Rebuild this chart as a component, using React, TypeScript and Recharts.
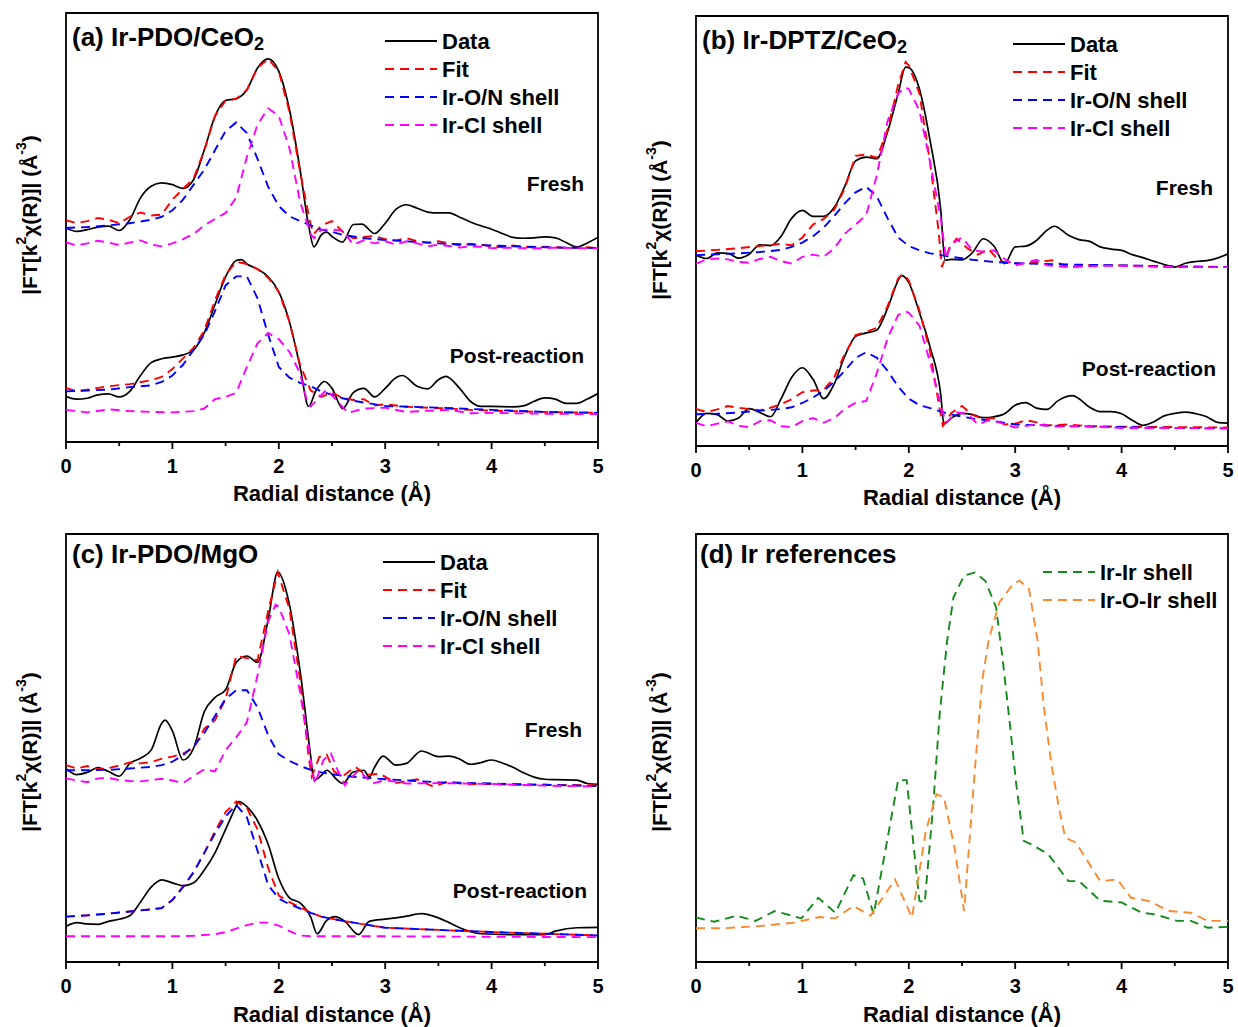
import React from 'react';
import { LineChart, Line, XAxis, YAxis, ReferenceArea } from 'recharts';

const FONT = '"Liberation Sans", Arial, Helvetica, sans-serif';
const TICKS = [0, 0.5, 1, 1.5, 2, 2.5, 3, 3.5, 4, 4.5, 5];

// ---- (a) Ir-PDO/CeO2 ----
const aFreshData = [[0,49.9],[0.1,49.1],[0.2,49.5],[0.3,50.1],[0.4,50.3],[0.5,49.3],[0.6,51.8],[0.7,56.9],[0.8,59.6],[0.9,60.4],[1.0,60.0],[1.1,59.1],[1.2,61.2],[1.3,68.1],[1.4,75.9],[1.5,79.6],[1.6,80.0],[1.7,82.1],[1.8,87.2],[1.9,89.3],[2.0,86.4],[2.1,77.5],[2.2,63.5],[2.28,50.5],[2.33,45.5],[2.4,48.3],[2.45,48.9],[2.5,47.9],[2.6,46.6],[2.7,50.7],[2.78,50.8],[2.9,48.6],[3.0,51.0],[3.1,54.2],[3.2,55.3],[3.3,54.5],[3.4,53.6],[3.5,53.4],[3.6,53.4],[3.7,52.4],[3.8,51.3],[3.9,50.4],[4.0,49.6],[4.1,48.6],[4.2,47.7],[4.3,47.5],[4.4,47.6],[4.5,47.8],[4.6,47.6],[4.7,46.5],[4.8,45.5],[4.9,46.4],[5.0,47.7]];
const aFreshFit = [[0,51.7],[0.1,51.0],[0.2,51.5],[0.3,52.2],[0.4,51.8],[0.5,51.0],[0.6,52.5],[0.7,53.5],[0.8,52.8],[0.9,53.0],[1.0,56.5],[1.1,59.0],[1.2,61.5],[1.3,68.0],[1.4,76.0],[1.5,79.6],[1.6,80.0],[1.7,82.1],[1.8,87.2],[1.9,89.3],[2.0,86.4],[2.1,77.0],[2.2,63.0],[2.3,50.5],[2.33,48.5],[2.4,50.5],[2.5,51.5],[2.6,49.0],[2.7,47.5],[2.8,47.8],[2.9,48.0],[3.0,47.3],[3.1,47.0],[3.2,47.5],[3.3,46.8],[3.4,46.5],[3.5,46.8],[3.6,46.3],[3.7,45.8],[3.8,46.2],[3.9,46.0],[4.0,45.6],[4.1,45.4],[4.2,45.8],[4.3,45.5],[4.4,45.3],[4.5,45.5],[4.6,45.4],[4.7,45.2],[4.8,45.3],[4.9,45.4],[5.0,45.2]];
const aFreshON = [[0,49.9],[0.2,50.1],[0.4,50.5],[0.6,51.0],[0.8,51.8],[0.9,52.5],[1.0,54.0],[1.1,56.5],[1.2,60.0],[1.3,63.5],[1.4,68.0],[1.5,72.5],[1.6,74.5],[1.7,72.0],[1.8,66.0],[1.9,59.5],[2.0,55.0],[2.1,52.6],[2.2,51.5],[2.3,50.5],[2.4,49.5],[2.5,49.0],[2.6,48.3],[2.7,47.9],[2.8,47.5],[3.0,47.1],[3.5,46.3],[4.0,45.8],[4.5,45.4],[5.0,45.2]];
const aFreshCl = [[0,46.5],[0.1,45.8],[0.2,46.3],[0.3,46.9],[0.4,46.5],[0.5,45.9],[0.6,46.5],[0.7,47.0],[0.8,46.0],[0.9,45.6],[1.0,46.3],[1.1,47.3],[1.2,48.5],[1.3,50.5],[1.4,52.0],[1.5,53.4],[1.6,57.0],[1.7,66.5],[1.8,74.0],[1.9,77.8],[2.0,76.0],[2.1,68.5],[2.2,56.0],[2.3,48.5],[2.33,47.5],[2.4,49.5],[2.5,49.5],[2.6,49.3],[2.7,46.0],[2.8,47.0],[2.9,46.3],[3.0,46.8],[3.1,46.0],[3.2,46.8],[3.3,46.3],[3.4,45.6],[3.5,46.0],[3.6,45.7],[3.7,45.3],[3.8,45.6],[3.9,45.5],[4.0,45.2],[4.2,45.3],[4.4,45.1],[4.6,45.3],[4.8,45.2],[5.0,45.1]];
const aPostData = [[0,10.6],[0.1,10.0],[0.2,10.2],[0.3,11.0],[0.4,11.2],[0.5,10.5],[0.6,11.8],[0.7,15.5],[0.8,18.5],[0.9,19.4],[1.0,19.8],[1.1,20.3],[1.2,21.5],[1.3,25.5],[1.4,32.0],[1.5,38.5],[1.6,42.3],[1.65,42.5],[1.7,41.5],[1.8,40.3],[1.9,38.5],[2.0,35.0],[2.1,28.0],[2.2,17.5],[2.28,8.3],[2.35,12.0],[2.43,14.1],[2.5,12.5],[2.6,7.8],[2.7,11.5],[2.8,12.5],[2.9,10.5],[3.0,12.5],[3.1,15.0],[3.16,15.5],[3.3,13.0],[3.4,12.4],[3.5,14.5],[3.57,15.3],[3.7,12.5],[3.8,9.5],[3.9,8.3],[4.0,8.3],[4.2,8.2],[4.3,8.4],[4.4,9.5],[4.5,10.3],[4.6,10.0],[4.7,9.0],[4.8,9.0],[4.9,10.0],[5.0,11.3]];
const aPostFit = [[0,12.6],[0.1,11.8],[0.2,12.2],[0.4,13.0],[0.6,13.5],[0.8,14.4],[0.9,15.2],[1.0,17.0],[1.1,19.5],[1.2,22.0],[1.3,26.0],[1.4,33.0],[1.5,39.0],[1.6,42.0],[1.7,41.5],[1.8,40.3],[1.9,38.3],[2.0,35.0],[2.1,28.0],[2.2,18.0],[2.3,12.0],[2.4,10.5],[2.5,11.5],[2.6,10.3],[2.7,9.8],[2.8,10.0],[2.9,8.5],[3.0,8.8],[3.2,8.2],[3.4,8.0],[3.6,7.8],[3.8,7.5],[4.0,7.3],[4.5,7.0],[5.0,6.8]];
const aPostON = [[0,11.8],[0.2,12.0],[0.4,12.2],[0.6,12.8],[0.8,13.2],[0.9,14.0],[1.0,15.5],[1.1,18.0],[1.2,21.5],[1.3,25.0],[1.4,30.5],[1.5,36.5],[1.6,38.6],[1.7,38.6],[1.8,33.5],[1.9,25.0],[2.0,17.5],[2.1,15.0],[2.2,13.8],[2.3,13.0],[2.4,11.8],[2.5,11.0],[2.6,10.2],[2.7,9.6],[2.8,9.2],[3.0,8.4],[3.5,8.0],[4.0,7.5],[4.5,7.0],[5.0,6.8]];
const aPostCl = [[0,7.5],[0.2,6.9],[0.4,7.6],[0.6,7.2],[0.8,7.0],[1.0,6.9],[1.2,7.2],[1.3,7.8],[1.4,10.0],[1.5,10.5],[1.6,11.5],[1.7,17.5],[1.8,23.0],[1.9,25.4],[2.0,24.0],[2.1,21.0],[2.2,16.0],[2.27,9.0],[2.3,8.3],[2.4,11.0],[2.45,12.2],[2.55,9.5],[2.65,6.8],[2.8,7.8],[3.0,8.0],[3.2,7.0],[3.4,7.3],[3.6,7.5],[3.8,6.7],[4.0,6.8],[4.5,6.6],[5.0,6.5]];

// ---- (b) Ir-DPTZ/CeO2 ----
const bFreshData = [[0,44.4],[0.1,43.6],[0.2,44.9],[0.3,44.8],[0.4,43.7],[0.5,44.6],[0.6,46.8],[0.7,46.6],[0.8,48.8],[0.9,53.0],[1.0,54.8],[1.1,53.4],[1.2,53.4],[1.3,55.5],[1.4,60.5],[1.5,66.3],[1.6,67.2],[1.7,66.8],[1.8,73.0],[1.9,82.0],[1.97,88.1],[2.0,88.0],[2.1,83.0],[2.2,71.0],[2.3,55.0],[2.34,43.2],[2.4,43.4],[2.5,43.3],[2.6,45.0],[2.7,48.2],[2.8,46.5],[2.9,42.4],[3.0,46.3],[3.1,46.5],[3.2,47.8],[3.3,50.2],[3.37,51.1],[3.5,49.0],[3.6,48.0],[3.7,47.6],[3.8,46.3],[3.9,45.8],[4.0,45.5],[4.1,44.5],[4.2,43.8],[4.3,43.0],[4.4,42.2],[4.5,41.6],[4.6,42.5],[4.7,42.9],[4.8,43.1],[4.9,43.7],[5.0,44.7]];
const bFreshFit = [[0,45.3],[0.2,45.6],[0.4,46.0],[0.6,46.5],[0.8,47.0],[0.9,46.7],[1.0,48.5],[1.1,51.5],[1.2,52.8],[1.3,55.0],[1.4,60.0],[1.5,67.5],[1.6,67.8],[1.7,67.0],[1.8,73.5],[1.9,84.0],[1.97,89.3],[2.0,88.5],[2.1,82.0],[2.2,66.0],[2.28,50.0],[2.31,41.6],[2.38,46.0],[2.45,48.2],[2.55,46.0],[2.65,44.5],[2.75,45.8],[2.85,43.0],[2.95,42.5],[3.1,42.4],[3.2,42.8],[3.35,43.2],[3.5,41.6],[3.7,42.0],[4.0,42.0],[4.3,41.8],[4.6,41.6],[5.0,41.6]];
const bFreshON = [[0,44.4],[0.2,44.6],[0.4,44.8],[0.6,45.1],[0.8,45.6],[0.9,46.3],[1.0,47.3],[1.1,48.8],[1.2,50.8],[1.3,53.5],[1.4,56.5],[1.5,59.0],[1.6,60.3],[1.7,58.0],[1.8,53.0],[1.9,48.5],[2.0,46.5],[2.1,45.5],[2.2,44.8],[2.3,44.4],[2.4,44.0],[2.6,43.3],[2.8,42.8],[3.0,42.5],[3.5,42.2],[4.0,42.0],[4.5,41.8],[5.0,41.6]];
const bFreshCl = [[0,42.4],[0.1,43.4],[0.2,43.6],[0.3,43.4],[0.4,42.8],[0.5,42.6],[0.6,43.5],[0.7,44.0],[0.8,43.0],[0.9,42.4],[1.0,44.0],[1.1,44.5],[1.2,44.0],[1.3,46.0],[1.4,49.4],[1.5,51.5],[1.6,53.7],[1.7,63.0],[1.8,75.5],[1.9,82.0],[1.97,83.4],[2.0,83.0],[2.1,78.0],[2.2,66.0],[2.3,53.0],[2.35,43.6],[2.4,47.0],[2.5,48.5],[2.6,45.5],[2.7,45.2],[2.8,45.5],[2.9,43.5],[3.0,42.0],[3.1,42.6],[3.2,43.3],[3.3,42.0],[3.5,41.6],[3.8,41.9],[4.0,41.9],[4.5,41.6],[5.0,41.6]];
const bPostData = [[0,5.4],[0.1,7.6],[0.2,7.3],[0.3,5.8],[0.4,6.5],[0.5,8.7],[0.6,7.8],[0.7,6.8],[0.8,11.0],[0.9,16.0],[1.0,18.2],[1.1,15.5],[1.2,11.0],[1.3,14.5],[1.4,21.0],[1.5,25.5],[1.6,26.3],[1.7,27.0],[1.8,32.0],[1.9,38.5],[1.93,39.7],[2.0,38.0],[2.1,31.0],[2.2,23.0],[2.3,12.0],[2.33,5.1],[2.4,6.5],[2.5,7.6],[2.6,7.3],[2.7,6.6],[2.8,6.8],[2.9,7.5],[3.0,9.5],[3.1,10.1],[3.2,8.8],[3.3,8.5],[3.4,10.5],[3.54,11.7],[3.6,11.0],[3.7,9.0],[3.8,8.0],[3.9,8.0],[4.0,7.5],[4.1,6.0],[4.2,4.8],[4.3,5.6],[4.4,7.0],[4.5,7.6],[4.6,7.9],[4.7,7.5],[4.8,6.8],[4.9,5.5],[5.0,5.3]];
const bPostFit = [[0,8.6],[0.1,7.9],[0.2,8.5],[0.3,9.3],[0.4,8.9],[0.5,8.6],[0.6,8.3],[0.7,8.9],[0.8,9.7],[0.9,10.9],[1.0,12.5],[1.1,12.9],[1.2,13.0],[1.3,16.0],[1.4,21.5],[1.5,25.8],[1.6,26.5],[1.7,27.5],[1.8,32.5],[1.9,39.0],[1.95,40.0],[2.0,38.5],[2.1,31.5],[2.2,22.0],[2.28,10.0],[2.32,4.7],[2.4,7.7],[2.5,9.3],[2.6,7.2],[2.7,6.3],[2.8,6.5],[2.9,5.0],[3.0,5.2],[3.1,6.0],[3.2,5.5],[3.3,4.8],[3.5,5.0],[3.7,4.6],[4.0,4.5],[4.5,4.4],[5.0,4.3]];
const bPostON = [[0,7.4],[0.2,7.5],[0.4,7.8],[0.6,8.2],[0.8,8.6],[0.9,9.0],[1.0,10.0],[1.1,11.3],[1.2,12.8],[1.3,15.0],[1.4,17.5],[1.5,20.5],[1.6,21.8],[1.7,20.5],[1.8,17.5],[1.9,13.8],[2.0,11.0],[2.1,9.5],[2.2,8.8],[2.3,8.0],[2.4,7.3],[2.6,6.4],[2.8,5.8],[3.0,5.0],[3.5,4.6],[4.0,4.4],[4.5,4.2],[5.0,4.1]];
const bPostCl = [[0,5.4],[0.1,4.6],[0.2,5.2],[0.3,5.7],[0.4,4.7],[0.5,4.4],[0.6,5.8],[0.7,6.0],[0.8,4.6],[0.9,4.4],[1.0,5.8],[1.1,6.5],[1.2,5.4],[1.3,6.5],[1.4,8.7],[1.5,10.0],[1.6,10.5],[1.7,17.0],[1.8,25.0],[1.9,30.5],[1.97,31.3],[2.0,31.0],[2.1,28.0],[2.2,19.5],[2.3,9.5],[2.35,5.4],[2.45,7.8],[2.55,7.5],[2.65,5.0],[2.75,6.0],[2.85,5.5],[3.0,4.3],[3.2,5.0],[3.4,4.5],[3.6,4.7],[4.0,4.2],[4.5,4.2],[5.0,4.1]];

// ---- (c) Ir-PDO/MgO ----
const cFreshData = [[0,45.2],[0.1,43.8],[0.2,44.3],[0.3,45.4],[0.4,44.5],[0.5,43.4],[0.6,46.4],[0.7,47.6],[0.8,49.5],[0.9,55.8],[0.93,56.5],[1.0,54.0],[1.1,47.2],[1.2,50.0],[1.3,58.5],[1.4,61.8],[1.5,63.6],[1.6,70.0],[1.7,71.5],[1.8,70.0],[1.9,80.0],[1.99,91.1],[2.1,83.5],[2.2,68.0],[2.3,48.0],[2.33,42.5],[2.4,43.6],[2.45,44.8],[2.55,42.5],[2.6,41.7],[2.7,44.4],[2.8,44.8],[2.85,43.2],[2.9,45.5],[2.98,48.1],[3.1,46.0],[3.2,46.4],[3.34,49.3],[3.5,48.0],[3.6,48.1],[3.7,47.4],[3.8,46.2],[3.9,46.6],[4.0,47.2],[4.1,46.5],[4.2,45.5],[4.3,44.2],[4.4,43.2],[4.5,42.7],[4.6,42.6],[4.8,42.5],[4.9,41.7],[5.0,41.5]];
const cFreshFit = [[0,46.0],[0.1,45.2],[0.2,45.8],[0.3,45.0],[0.4,45.3],[0.5,45.9],[0.6,46.6],[0.7,46.4],[0.8,46.7],[0.9,47.5],[1.0,48.0],[1.1,48.7],[1.2,50.0],[1.3,54.5],[1.4,56.5],[1.5,61.5],[1.6,71.5],[1.7,71.0],[1.8,70.5],[1.9,82.0],[1.99,91.1],[2.1,82.5],[2.2,66.0],[2.28,48.0],[2.31,43.3],[2.38,47.9],[2.45,48.5],[2.52,44.5],[2.6,43.4],[2.72,45.6],[2.82,43.7],[2.95,44.0],[3.1,41.8],[3.3,42.7],[3.45,41.0],[3.6,42.2],[3.75,41.5],[3.95,41.6],[4.2,41.4],[4.5,41.4],[5.0,41.3]];
const cFreshON = [[0,44.8],[0.2,44.8],[0.4,44.9],[0.6,45.2],[0.8,45.6],[0.9,46.0],[1.0,46.8],[1.1,48.3],[1.2,50.5],[1.3,53.5],[1.4,57.5],[1.5,61.5],[1.6,63.5],[1.7,63.5],[1.8,59.5],[1.9,53.0],[2.0,48.5],[2.1,47.0],[2.2,45.8],[2.3,44.9],[2.4,44.3],[2.6,43.5],[2.8,43.1],[3.0,42.7],[3.5,42.0],[4.0,41.7],[4.5,41.4],[5.0,41.1]];
const cFreshCl = [[0,42.9],[0.1,42.4],[0.2,42.0],[0.3,42.9],[0.4,43.0],[0.5,42.5],[0.6,42.3],[0.7,42.2],[0.8,42.5],[0.9,42.8],[1.0,42.4],[1.1,41.8],[1.2,43.5],[1.3,45.0],[1.4,44.5],[1.5,49.5],[1.6,52.5],[1.7,56.0],[1.8,67.0],[1.9,79.5],[1.97,83.5],[2.0,83.0],[2.1,76.5],[2.2,63.0],[2.3,47.0],[2.34,41.7],[2.42,47.2],[2.49,48.7],[2.55,45.0],[2.62,41.3],[2.75,44.8],[2.88,41.7],[3.0,42.5],[3.2,41.7],[3.5,41.8],[4.0,41.6],[4.5,41.2],[5.0,41.0]];
const cPostData = [[0,8.3],[0.1,9.2],[0.2,8.9],[0.3,8.8],[0.4,9.5],[0.5,10.0],[0.6,10.8],[0.7,14.0],[0.8,17.5],[0.9,19.2],[1.0,18.5],[1.1,17.8],[1.2,18.5],[1.3,21.5],[1.4,25.5],[1.5,31.0],[1.6,36.5],[1.62,37.5],[1.7,36.3],[1.8,33.0],[1.9,27.5],[2.0,19.5],[2.1,15.0],[2.2,13.8],[2.3,10.5],[2.36,6.6],[2.45,9.7],[2.53,10.6],[2.62,9.5],[2.75,6.4],[2.85,9.5],[3.0,10.0],[3.1,10.3],[3.2,10.7],[3.34,11.3],[3.5,10.3],[3.6,9.2],[3.7,8.0],[3.9,6.6],[4.2,6.4],[4.5,6.4],[4.6,7.2],[4.8,8.0],[5.0,8.1]];
const cPostFit = [[0,10.6],[0.2,10.9],[0.4,11.3],[0.6,11.8],[0.8,12.3],[0.9,12.6],[1.0,14.5],[1.1,17.6],[1.2,21.0],[1.3,25.5],[1.4,30.5],[1.5,35.0],[1.6,37.5],[1.7,36.0],[1.8,31.0],[1.9,22.0],[2.0,15.5],[2.1,14.0],[2.2,12.8],[2.3,11.5],[2.4,10.6],[2.6,9.6],[2.8,8.8],[3.0,8.0],[3.5,7.5],[4.0,7.0],[4.5,6.6],[5.0,6.2]];
const cPostON = [[0,10.6],[0.2,10.9],[0.4,11.3],[0.6,11.8],[0.8,12.3],[0.9,12.6],[1.0,14.5],[1.1,17.5],[1.2,21.0],[1.3,25.5],[1.4,30.0],[1.5,34.0],[1.6,36.7],[1.7,33.8],[1.8,26.0],[1.9,18.0],[2.0,14.8],[2.1,13.5],[2.2,12.5],[2.3,11.5],[2.4,10.6],[2.6,9.6],[2.8,8.8],[3.0,8.0],[3.5,7.5],[4.0,7.0],[4.5,6.6],[5.0,6.2]];
const cPostCl = [[0,6.0],[0.5,6.0],[1.0,6.0],[1.2,6.1],[1.4,6.5],[1.5,7.0],[1.6,7.8],[1.7,8.6],[1.8,9.2],[1.9,9.2],[2.0,8.5],[2.1,7.2],[2.2,6.2],[2.3,6.0],[3.0,6.0],[4.0,5.9],[5.0,5.8]];

// ---- (d) Ir references ----
const dIrIr = [[0,10.4],[0.17,9.4],[0.38,10.8],[0.56,9.6],[0.74,11.9],[0.99,10.2],[1.15,15.0],[1.31,11.5],[1.48,20.3],[1.57,19.5],[1.67,11.1],[1.9,42.5],[1.98,42.5],[2.1,14.3],[2.15,13.9],[2.23,36.9],[2.29,57.9],[2.36,75.0],[2.42,85.2],[2.52,90.3],[2.62,91.0],[2.72,89.0],[2.82,82.9],[2.88,71.2],[2.95,55.6],[3.01,41.5],[3.08,28.3],[3.15,27.5],[3.31,25.2],[3.5,18.9],[3.6,18.9],[3.8,14.3],[4.0,13.9],[4.19,11.5],[4.32,11.1],[4.52,9.6],[4.65,9.6],[4.81,8.0],[5.0,8.2]];
const dIrOIr = [[0,7.9],[0.27,7.9],[0.6,8.4],[0.92,9.2],[1.16,10.5],[1.31,10.2],[1.48,13.1],[1.64,10.8],[1.87,19.3],[2.03,10.4],[2.16,30.6],[2.26,39.2],[2.33,38.5],[2.43,26.7],[2.52,11.9],[2.62,44.7],[2.69,65.7],[2.75,75.1],[2.85,84.0],[2.98,88.3],[3.04,89.1],[3.13,87.1],[3.21,75.1],[3.27,59.5],[3.34,46.2],[3.41,36.1],[3.47,29.1],[3.57,27.9],[3.7,22.8],[3.8,18.9],[3.96,19.3],[4.09,15.0],[4.25,14.3],[4.45,11.9],[4.65,11.5],[4.81,9.6],[5.0,9.6]];

const BLACK = '#000000';
const RED = '#ff0000';
const BLUE = '#0000ff';
const MAGENTA = '#ff00ff';
const GREEN = '#138a1b';
const ORANGE = '#fa8a30';
const DASH = '9 6';
const AX = { stroke: '#000', strokeWidth: 1.8 };

const toRows = (pts: number[][]) => pts.map(([r, v]) => ({ r, v }));

const XTick = ({ x, y, payload }: any) => {
  const major = Number.isInteger(payload.value);
  return (
    <g>
      <line x1={x} x2={x} y1={y} y2={y + (major ? 7 : 4)} stroke="#000" strokeWidth={1.8} />
      {major && (
        <text x={x} y={y + 24} textAnchor="middle" dominantBaseline="central"
          fontSize={20} fontWeight="bold" fontFamily={FONT} fill="#000">
          {payload.value}
        </text>
      )}
    </g>
  );
};

type Series = { pts: number[][]; color: string; dashed?: boolean; smooth?: boolean };

function Panel({ left, top, plotH, series }: { left: number; top: number; plotH: number; series: Series[] }) {
  return (
    <div style={{ position: 'absolute', left, top }}>
      <LineChart width={618} height={13 + plotH + 80} margin={{ top: 13, right: 20, bottom: 0, left: 66 }}>
        <XAxis type="number" dataKey="r" domain={[0, 5]} ticks={TICKS} interval={0}
          tick={(p: any) => <XTick {...p} />} tickLine={false} tickSize={0} tickMargin={0}
          height={80} axisLine={AX} allowDataOverflow />
        <YAxis type="number" domain={[0, 100]} tick={false} tickLine={false} width={0}
          axisLine={AX} allowDataOverflow />
        {/* frame around the plot */}
        <ReferenceArea x1={0} x2={5} y1={0} y2={100} fill="none" fillOpacity={0}
          stroke="#000" strokeWidth={1.8} ifOverflow="visible" />
        {series.map((s, i) => (
          <Line key={i} data={toRows(s.pts)} dataKey="v" type={s.smooth ? 'monotone' : 'linear'}
            stroke={s.color} strokeWidth={s.dashed ? 1.9 : 1.7}
            strokeDasharray={s.dashed ? DASH : undefined} dot={false} isAnimationActive={false} />
        ))}
      </LineChart>
    </div>
  );
}

const fitSet = (data: number[][], fit: number[][], on: number[][], cl: number[][]): Series[] => [
  { pts: data, color: BLACK, smooth: true },
  { pts: fit, color: RED, dashed: true },
  { pts: on, color: BLUE, dashed: true },
  { pts: cl, color: MAGENTA, dashed: true },
];

const txt = { fontFamily: FONT, fontWeight: 'bold' as const, fill: '#000' };

const Title = ({ x, y, main, sub }: { x: number; y: number; main: string; sub?: string }) => (
  <text x={x} y={y} fontSize={26} dominantBaseline="central" {...txt}>
    {main}
    {sub && <tspan fontSize={18} dy={7}>{sub}</tspan>}
  </text>
);

const LegendRows = ({ x, y, items }: { x: number; y: number; items: { label: string; color: string; dashed: boolean }[] }) => (
  <g>
    {items.map((it, i) => (
      <g key={i}>
        <line x1={x} x2={x + 52} y1={y + i * 28} y2={y + i * 28} stroke={it.color} strokeWidth={2}
          strokeDasharray={it.dashed ? DASH : undefined} />
        <text x={x + 57} y={y + i * 28} fontSize={22} dominantBaseline="central" {...txt}>{it.label}</text>
      </g>
    ))}
  </g>
);

const FIT_LEGEND = [
  { label: 'Data', color: BLACK, dashed: false },
  { label: 'Fit', color: RED, dashed: true },
  { label: 'Ir-O/N shell', color: BLUE, dashed: true },
  { label: 'Ir-Cl shell', color: MAGENTA, dashed: true },
];

const YTitle = ({ x, y }: { x: number; y: number }) => (
  <text x={x} y={y} transform={`rotate(-90, ${x}, ${y})`} textAnchor="middle" dominantBaseline="central" fontSize={21} {...txt}>
    |FT[k<tspan fontSize={14} dy={-8}>2</tspan><tspan dy={8}>χ(R)]| (Å</tspan><tspan fontSize={14} dy={-8}>-3</tspan><tspan dy={8}>)</tspan>
  </text>
);

const XTitle = ({ x, y }: { x: number; y: number }) => (
  <text x={x} y={y} textAnchor="middle" dominantBaseline="central" fontSize={22} {...txt}>Radial distance (Å)</text>
);

const Note = ({ x, y, t }: { x: number; y: number; t: string }) => (
  <text x={x} y={y} textAnchor="end" dominantBaseline="central" fontSize={21} {...txt}>{t}</text>
);

export default function App() {
  return (
    <div style={{ position: 'absolute', left: 0, top: 0, width: 1238, height: 1027, background: '#fff', fontFamily: FONT }}>
      <Panel left={0} top={0} plotH={429}
        series={[...fitSet(aFreshData, aFreshFit, aFreshON, aFreshCl), ...fitSet(aPostData, aPostFit, aPostON, aPostCl)]} />
      <Panel left={630} top={3} plotH={430}
        series={[...fitSet(bFreshData, bFreshFit, bFreshON, bFreshCl), ...fitSet(bPostData, bPostFit, bPostON, bPostCl)]} />
      <Panel left={0} top={521} plotH={428}
        series={[...fitSet(cFreshData, cFreshFit, cFreshON, cFreshCl), ...fitSet(cPostData, cPostFit, cPostON, cPostCl)]} />
      <Panel left={630} top={521} plotH={428}
        series={[{ pts: dIrIr, color: GREEN, dashed: true }, { pts: dIrOIr, color: ORANGE, dashed: true }]} />

      <svg width={1238} height={1027} style={{ position: 'absolute', left: 0, top: 0, pointerEvents: 'none' }}>
        <Title x={72} y={37} main="(a) Ir-PDO/CeO" sub="2" />
        <LegendRows x={385} y={41} items={FIT_LEGEND} />
        <Note x={584} y={183} t="Fresh" />
        <Note x={584} y={355} t="Post-reaction" />
        <YTitle x={29} y={215} />
        <XTitle x={332} y={493} />

        <Title x={702} y={40} main="(b) Ir-DPTZ/CeO" sub="2" />
        <LegendRows x={1013} y={44} items={FIT_LEGEND} />
        <Note x={1213} y={187} t="Fresh" />
        <Note x={1216} y={368} t="Post-reaction" />
        <YTitle x={659} y={220} />
        <XTitle x={962} y={497} />

        <Title x={72} y={554} main="(c) Ir-PDO/MgO" />
        <LegendRows x={383} y={562} items={FIT_LEGEND} />
        <Note x={582} y={729} t="Fresh" />
        <Note x={587} y={890} t="Post-reaction" />
        <YTitle x={29} y={752} />
        <XTitle x={332} y={1014} />

        <Title x={700} y={554} main="(d) Ir references" />
        <LegendRows x={1043} y={572} items={[
          { label: 'Ir-Ir shell', color: GREEN, dashed: true },
          { label: 'Ir-O-Ir shell', color: ORANGE, dashed: true },
        ]} />
        <YTitle x={659} y={752} />
        <XTitle x={962} y={1014} />
      </svg>
    </div>
  );
}
